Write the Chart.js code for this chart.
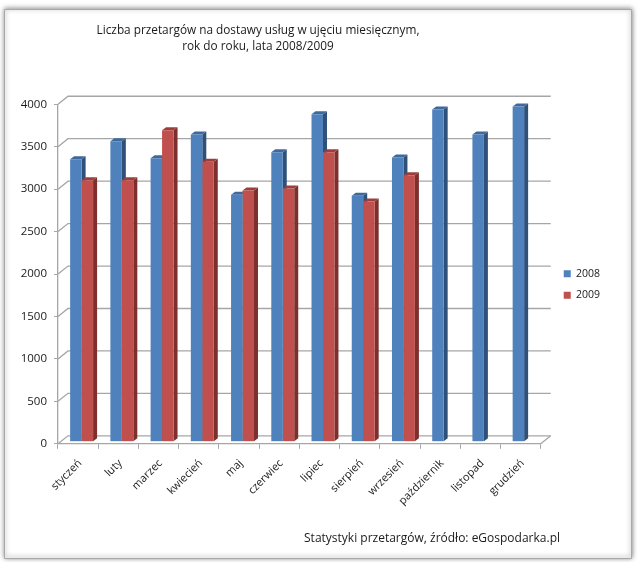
<!DOCTYPE html>
<html>
<head>
<meta charset="utf-8">
<title>Liczba przetargów</title>
<script src="https://cdn.jsdelivr.net/npm/chart.js@4"></script>
<style>
  html, body { margin: 0; padding: 0; background: #fff; }
  canvas { display: block; }
</style>
</head>
<body>
<canvas id="wykres" width="640" height="562"></canvas>
<script>
// Dane
const miesiace = ['styczeń', 'luty', 'marzec', 'kwiecień', 'maj', 'czerwiec', 'lipiec', 'sierpień', 'wrzesień', 'październik', 'listopad', 'grudzień'];
const wartosci2008 = [3330, 3540, 3340, 3620, 2910, 3410, 3860, 2900, 3350, 3915, 3620, 3950];
const wartosci2009 = [3080, 3080, 3670, 3300, 2960, 2985, 3410, 2830, 3140, null, null, null];
const tytul = ['Liczba przetargów na dostawy usług w ujęciu miesięcznym,', 'rok do roku, lata 2008/2009'];
const zrodlo = 'Statystyki przetargów, źródło: eGospodarka.pl';

const kolorLinii = '#a6a6a6';
const glebokosc = { x: 10, y: -8 }; // przesuniecie tylnej sciany
const slupek = { x: 3.5, y: -2, bokX: 4, bokY: -3 }; // przesuniecie i bok slupka

// Rama, tylna sciana i os z przodu
const tlo = {
    id: 'tlo',
    beforeDraw(chart) {
        const ctx = chart.ctx;
        const { left, right, bottom } = chart.chartArea;
        const y = chart.scales.y;
        ctx.save();
        ctx.fillStyle = '#fff';
        ctx.fillRect(0, 0, 640, 562);
        ctx.shadowColor = 'rgba(0,0,0,0.55)';
        ctx.shadowBlur = 5;
        ctx.shadowOffsetY = -1;
        ctx.strokeStyle = '#a8a8a8';
        ctx.lineWidth = 1;
        ctx.fillStyle = '#fff';
        ctx.beginPath();
        ctx.rect(4.5, 9.5, 627, 549);
        ctx.fill();
        ctx.stroke();
        ctx.restore();

        ctx.save();
        ctx.strokeStyle = kolorLinii;
        ctx.lineWidth = 1.3;
        y.ticks.forEach(t => {
            const py = y.getPixelForValue(t.value);
            ctx.beginPath();
            ctx.moveTo(left, py);
            ctx.lineTo(left + glebokosc.x, py + glebokosc.y);
            ctx.lineTo(right + glebokosc.x, py + glebokosc.y);
            ctx.stroke();
        });
        // podloga
        ctx.beginPath();
        ctx.moveTo(right, bottom);
        ctx.lineTo(right + glebokosc.x, bottom + glebokosc.y);
        ctx.stroke();
        ctx.restore();
    },
    afterLayout(chart) {
        // legenda i tytuly nie leza tam, gdzie ustawia je Chart.js
        chart.legend.left += 12;
        chart.legend.right += 12;
        chart.titleBlock.left -= 41;
        chart.titleBlock.right -= 41;
        const stopka = chart.boxes.find(b => b.options && b.options.text === zrodlo);
        stopka.right -= 38;
    },
    beforeDatasetsDraw(chart) {
        const ctx = chart.ctx;
        ctx.save();
        ctx.translate(slupek.x, slupek.y);
        const kolory = [
            { bok: '#2f5079', gora: '#3f689b' },
            { bok: '#7d2f2d', gora: '#9c3f3c' }
        ];
        chart.data.datasets.forEach((ds, d) => {
            const meta = chart.getDatasetMeta(d);
            meta.data.forEach((bar, i) => {
                if (ds.data[i] === null) return;
                const lewo = bar.x - bar.width / 2;
                const prawo = bar.x + bar.width / 2;
                // bok slupka
                ctx.fillStyle = kolory[d].bok;
                ctx.beginPath();
                ctx.moveTo(prawo, bar.y);
                ctx.lineTo(prawo + slupek.bokX, bar.y + slupek.bokY);
                ctx.lineTo(prawo + slupek.bokX, bar.base + slupek.bokY);
                ctx.lineTo(prawo, bar.base);
                ctx.closePath();
                ctx.fill();
                // gora slupka
                ctx.fillStyle = kolory[d].gora;
                ctx.beginPath();
                ctx.moveTo(lewo, bar.y);
                ctx.lineTo(lewo + slupek.bokX, bar.y + slupek.bokY);
                ctx.lineTo(prawo + slupek.bokX, bar.y + slupek.bokY);
                ctx.lineTo(prawo, bar.y);
                ctx.closePath();
                ctx.fill();
            });
        });
    },
    afterDatasetsDraw(chart) {
        chart.ctx.restore();
    }
};

const config = {
    type: 'bar',
    data: {
        labels: miesiace,
        datasets: [
            { label: '2008', data: wartosci2008, backgroundColor: '#4f81bd' },
            { label: '2009', data: wartosci2009, backgroundColor: '#c0504d' }
        ]
    },
    options: {
        responsive: false,
        animation: false,
        layout: { padding: { top: 23, left: 0, right: 42, bottom: 16 } },
        datasets: { bar: { categoryPercentage: 0.57, barPercentage: 1 } },
        scales: {
            x: {
                grid: { drawOnChartArea: false, color: kolorLinii, tickLength: 5, offset: true },
                border: { color: kolorLinii, width: 1.3 },
                ticks: { color: '#1a1a1a', font: { family: 'Open Sans', size: 11 }, maxRotation: 45, minRotation: 45, padding: 8, labelOffset: 2 }
            },
            y: {
                min: 0,
                max: 4000,
                ticks: { stepSize: 500, color: '#1a1a1a', font: { family: 'Open Sans', size: 11.5 }, padding: 7, callback: v => String(v) },
                grid: { drawOnChartArea: false, color: kolorLinii, tickLength: 4 },
                border: { color: kolorLinii, width: 1.3 },
                afterFit(scale) { scale.width = 58; }
            }
        },
        plugins: {
            tooltip: { enabled: false },
            legend: {
                position: 'right',
                labels: { boxWidth: 7, boxHeight: 7, padding: 11, color: '#1a1a1a', font: { family: 'Open Sans', size: 10.5 } }
            },
            title: {
                display: true,
                text: tytul,
                color: '#1a1a1a',
                font: { family: 'Open Sans', size: 11.8, weight: 'normal', lineHeight: 1.35 },
                padding: { top: 0, bottom: 49.4 }
            },
            subtitle: {
                display: true,
                position: 'bottom',
                align: 'end',
                text: zrodlo,
                color: '#1a1a1a',
                font: { family: 'Open Sans', size: 12 },
                padding: { top: 16, bottom: 0 }
            }
        }
    },
    plugins: [tlo]
};

new Chart(document.getElementById('wykres').getContext('2d'), config);
</script>
</body>
</html>
